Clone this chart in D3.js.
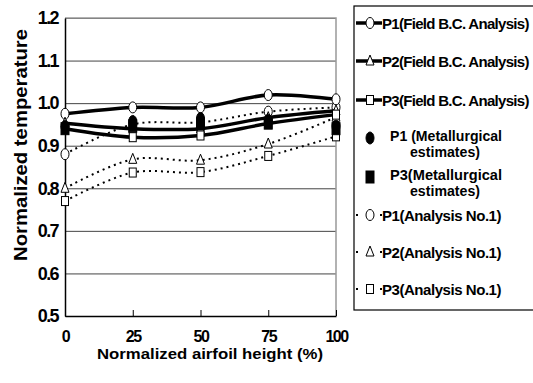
<!DOCTYPE html>
<html>
<head>
<meta charset="utf-8">
<script src="https://cdn.jsdelivr.net/npm/d3@7"></script>
<style>
  body { margin: 0; background: #fff; }
  svg { display: block; }
  svg text { font-family: "Liberation Sans", Arial, sans-serif; font-weight: bold; fill: #000; }
</style>
</head>
<body>
<svg id="chart" width="533" height="383"></svg>
<script>
// data
const heights = [0, 25, 50, 75, 100];
const p1Field = [0.975, 0.99, 0.99, 1.019, 1.009];
const p2Field = [0.953, 0.94, 0.94, 0.966, 0.982];
const p3Field = [0.94, 0.92, 0.924, 0.952, 0.973];
const p1Metal = [0.945, 0.957, 0.964, 0.96, 0.946];
const p3Metal = [0.94, 0.947, 0.951, 0.953, 0.94];
const p1Ana = [0.88, 0.95, 0.955, 0.98, 0.99];
const p2Ana = [0.80, 0.868, 0.866, 0.904, 0.967];
const p3Ana = [0.77, 0.837, 0.838, 0.876, 0.922];
const yTicks = [0.5, 0.6, 0.7, 0.8, 0.9, 1.0, 1.1, 1.2];
const xTicks = [0, 25, 50, 75, 100];

const legendLabels = [
  ['P1(Field B.C. Analysis)'],
  ['P2(Field B.C. Analysis)'],
  ['P3(Field B.C. Analysis)'],
  ['P1 (Metallurgical', 'estimates)'],
  ['P3(Metallurgical', 'estimates)'],
  ['P1(Analysis  No.1)'],
  ['P2(Analysis  No.1)'],
  ['P3(Analysis  No.1)']
];

const pLeft = 65, pRight = 336, pTop = 18, pBottom = 316;
const svg = d3.select('#chart');

const x = d3.scaleLinear().domain([0, 100]).range([pLeft, pRight]);
const y = d3.scaleLinear().domain([0.5, 1.2]).range([pBottom, pTop]);

// grid
const grid = svg.append('g')
  .attr('transform', 'translate(' + pLeft + ',0)')
  .call(d3.axisLeft(y).tickValues(yTicks).tickSize(-(pRight - pLeft)).tickFormat(''));
grid.select('.domain').remove();
grid.selectAll('line').attr('stroke', '#444').attr('stroke-width', 1);

// frame top/right
svg.append('path')
  .attr('d', 'M' + pLeft + ',' + pTop + 'H' + pRight + 'V' + pBottom)
  .attr('fill', 'none').attr('stroke', '#999').attr('stroke-width', 1.5);

// y axis
const yAxis = svg.append('g')
  .attr('transform', 'translate(' + pLeft + ',0)')
  .call(d3.axisLeft(y).tickValues(yTicks).tickSize(0).tickPadding(7).tickFormat(d3.format('.1f')));
yAxis.attr('font-family', null).attr('font-size', null);
yAxis.select('.domain').attr('stroke', '#000').attr('stroke-width', 1.5);
yAxis.selectAll('text')
  .style('font-size', '18px').style('letter-spacing', '-1.6px');

// x axis
const xAxis = svg.append('g')
  .attr('transform', 'translate(0,' + pBottom + ')')
  .call(d3.axisBottom(x).tickValues(xTicks).tickSizeInner(-6).tickSizeOuter(0).tickPadding(15));
xAxis.attr('font-family', null).attr('font-size', null);
xAxis.select('.domain').attr('stroke', '#000').attr('stroke-width', 1.5);
xAxis.selectAll('line').attr('stroke', '#000');
xAxis.selectAll('text')
  .style('font-size', '16px').style('letter-spacing', '-1.5px');

// titles
svg.append('text')
  .attr('x', 210).attr('y', 359)
  .attr('text-anchor', 'middle')
  .style('font-size', '15px')
  .attr('textLength', 226).attr('lengthAdjust', 'spacingAndGlyphs')
  .text('Normalized airfoil height   (%)');
svg.append('text')
  .attr('transform', 'translate(27,145) rotate(-90)')
  .attr('text-anchor', 'middle')
  .style('font-size', '18px')
  .attr('textLength', 232).attr('lengthAdjust', 'spacingAndGlyphs')
  .text('Normalized temperature');

// marker helpers
function marker(g, type, cx, cy, filled) {
  const fill = filled ? '#000' : '#fff';
  if (type === 'circle') {
    g.append('ellipse').attr('cx', cx).attr('cy', cy).attr('rx', 4).attr('ry', filled ? 6 : 5.5)
      .attr('fill', fill).attr('stroke', '#000').attr('stroke-width', 1);
  } else if (type === 'square') {
    const w = filled ? 8 : 7, h = filled ? 12 : 9;
    g.append('rect').attr('x', cx - w / 2).attr('y', cy - h / 2).attr('width', w).attr('height', h)
      .attr('fill', fill).attr('stroke', '#000').attr('stroke-width', 1);
  } else {
    g.append('path')
      .attr('d', 'M' + cx + ',' + (cy - 6) + 'L' + (cx + 4) + ',' + (cy + 4) + 'L' + (cx - 4) + ',' + (cy + 4) + 'Z')
      .attr('fill', fill).attr('stroke', '#000').attr('stroke-width', 1);
  }
}

const line = d3.line()
  .x((d, i) => x(heights[i]))
  .y(d => y(d))
  .curve(d3.curveCatmullRom.alpha(0.5));

const analysis = [[p1Ana, 'circle'], [p2Ana, 'triangle'], [p3Ana, 'square']];
const field = [[p1Field, 'circle'], [p2Field, 'triangle'], [p3Field, 'square']];
const metal = [[p1Metal, 'circle'], [p3Metal, 'square']];

const plot = svg.append('g');
analysis.forEach(([vals, type]) => {
  plot.append('path').attr('d', line(vals))
    .attr('fill', 'none').attr('stroke', '#000').attr('stroke-width', 2)
    .attr('stroke-dasharray', '2,4');
  vals.forEach((v, i) => marker(plot, type, x(heights[i]), y(v), false));
});
field.forEach(([vals, type]) => {
  plot.append('path').attr('d', line(vals))
    .attr('fill', 'none').attr('stroke', '#000').attr('stroke-width', 3.5);
  vals.forEach((v, i) => marker(plot, type, x(heights[i]), y(v), false));
});
metal.forEach(([vals, type]) => {
  vals.forEach((v, i) => marker(plot, type, x(heights[i]), y(v), true));
});

// legend
svg.append('rect')
  .attr('x', 354).attr('y', 6).attr('width', 190).attr('height', 304)
  .attr('fill', '#fff').attr('stroke', '#000').attr('stroke-width', 1.2);

const legendY = [23, 61, 100, 138, 177, 215, 252, 289];
const legendKind = [
  ['field', 'circle'], ['field', 'triangle'], ['field', 'square'],
  ['metal', 'circle'], ['metal', 'square'],
  ['ana', 'circle'], ['ana', 'triangle'], ['ana', 'square']
];
const lg = svg.append('g');
legendKind.forEach(([kind, type], i) => {
  const ly = legendY[i];
  if (kind === 'field') {
    lg.append('line').attr('x1', 356).attr('x2', 382).attr('y1', ly).attr('y2', ly)
      .attr('stroke', '#000').attr('stroke-width', 3.5);
    marker(lg, type, 370, ly, false);
  } else if (kind === 'ana') {
    lg.append('line').attr('x1', 356).attr('x2', 384).attr('y1', ly).attr('y2', ly)
      .attr('stroke', '#000').attr('stroke-width', 2).attr('stroke-dasharray', '2,22');
    marker(lg, type, 370, ly, false);
  } else {
    marker(lg, type, 370, ly, true);
  }
  const lab = legendLabels[i];
  if (lab.length === 1) {
    lg.append('text').attr('x', 382).attr('y', ly + 5.5)
      .style('font-size', '15px')
      .style('letter-spacing', kind === 'field' ? '-0.7px' : '-0.45px')
      .text(lab[0]);
  } else {
    lg.append('text').attr('x', 390).attr('y', ly + 3)
      .style('font-size', '15px')
      .attr('textLength', 112).attr('lengthAdjust', 'spacingAndGlyphs')
      .text(lab[0]);
    lg.append('text').attr('x', 410).attr('y', ly + 19)
      .style('font-size', '15px')
      .attr('textLength', 70).attr('lengthAdjust', 'spacingAndGlyphs')
      .text(lab[1]);
  }
});
</script>
</body>
</html>
